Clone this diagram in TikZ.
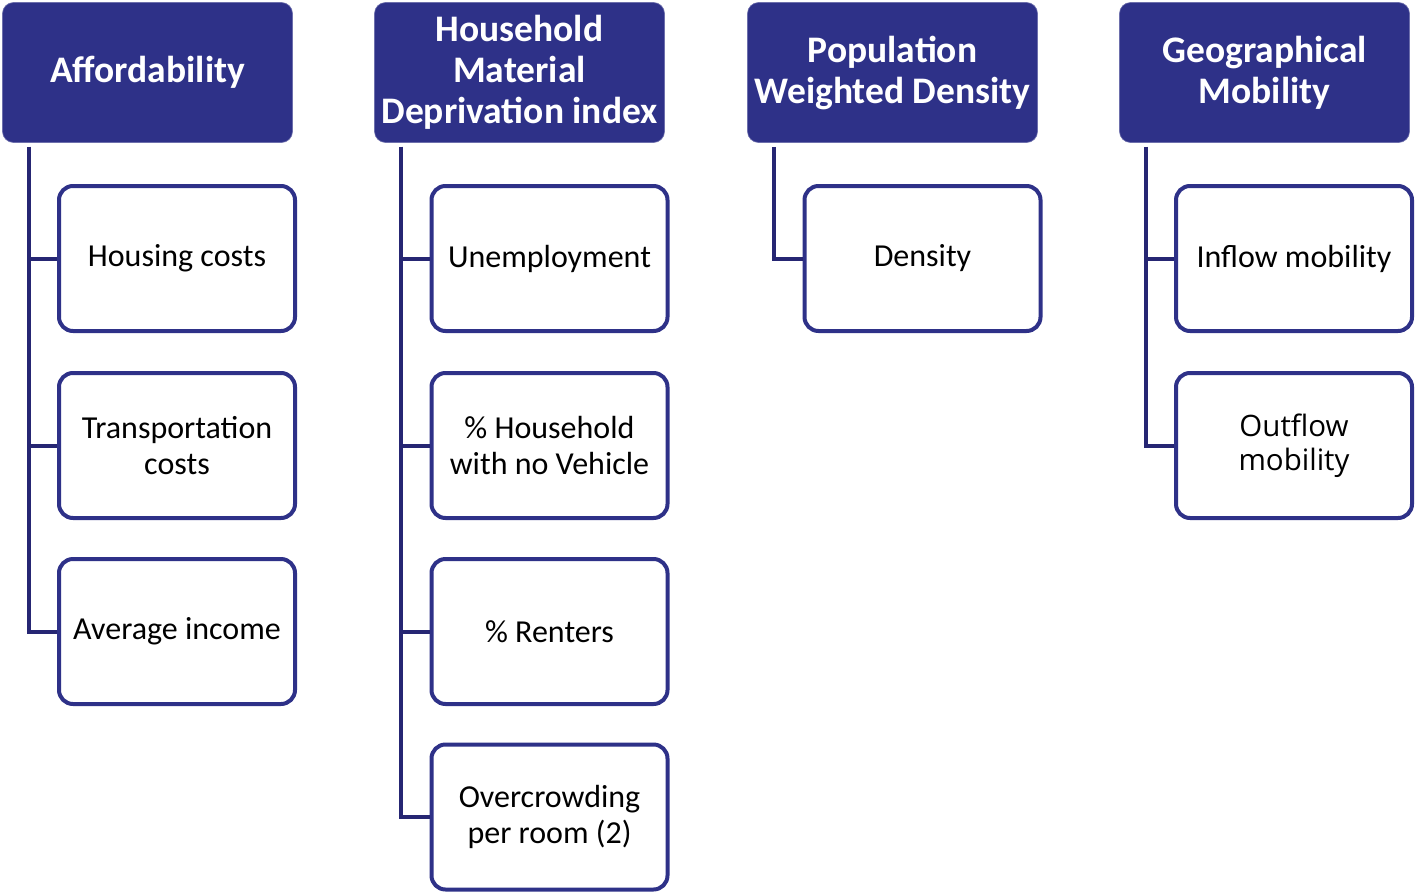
\documentclass[tikz,border=0pt]{standalone}
\usepackage{fontspec}
\setmainfont{Carlito}
\newfontfamily\segoe{Open Sans}
\definecolor{navy}{HTML}{2E3188}
\definecolor{linecol}{HTML}{262673}
\tikzset{
  head/.style={fill=navy, draw=navy!70, line width=0.6pt, rounded corners=11pt, minimum width=290pt, minimum height=140pt, inner sep=0pt, text=white, font=\fontsize{37.5}{41}\selectfont\bfseries, align=center},
  child/.style={fill=white, draw=navy, line width=4pt, rounded corners=14pt, minimum width=236pt, minimum height=145pt, inner sep=0pt, font=\fontsize{32}{36}\selectfont, align=center},
  conn/.style={draw=linecol, line width=4pt},
}
\begin{document}
\begin{tikzpicture}[x=1pt,y=-1pt]
\useasboundingbox (0,0) rectangle (1415,894);
% headers
\node[head] (h1) at (147.5,72.5) {Affordability};
\node[head] (h2) at (519.5,72.5) {Household\\Material\\Deprivation index};
\node[head] (h3) at (892.5,72.5) {Population\\Weighted Density};
\node[head] (h4) at (1264.5,72.5) {Geographical\\Mobility};
% children column 1
\node[child] (a1) at (177,258.5) {Housing costs};
\node[child] (a2) at (177,445.5) {Transportation\\costs};
\node[child] (a3) at (177,631.5) {Average income};
% column 2
\node[child] (b1) at (549.5,258.5) {Unemployment};
\node[child] (b2) at (549.5,445.5) {\% Household\\with no Vehicle};
\node[child] (b3) at (549.5,631.5) {\% Renters};
\node[child] (b4) at (549.5,817) {Overcrowding\\per room (2)};
% column 3
\node[child] (c1) at (922.5,258.5) {Density};
% column 4
\node[child] (d1) at (1294,258.5) {Inflow mobility};
\node[child, font=\segoe\fontsize{29.5}{34}\selectfont] (d2) at (1294,445.5) {Outflow\\mobility};
% connectors
\foreach \h/\c in {h1/a1,h1/a2,h1/a3,h2/b1,h2/b2,h2/b3,h2/b4,h3/c1,h4/d1,h4/d2}
  \draw[conn] ([xshift=26.5pt,yshift=-4pt]\h.south west) |- (\c.west);
\end{tikzpicture}
\end{document}
